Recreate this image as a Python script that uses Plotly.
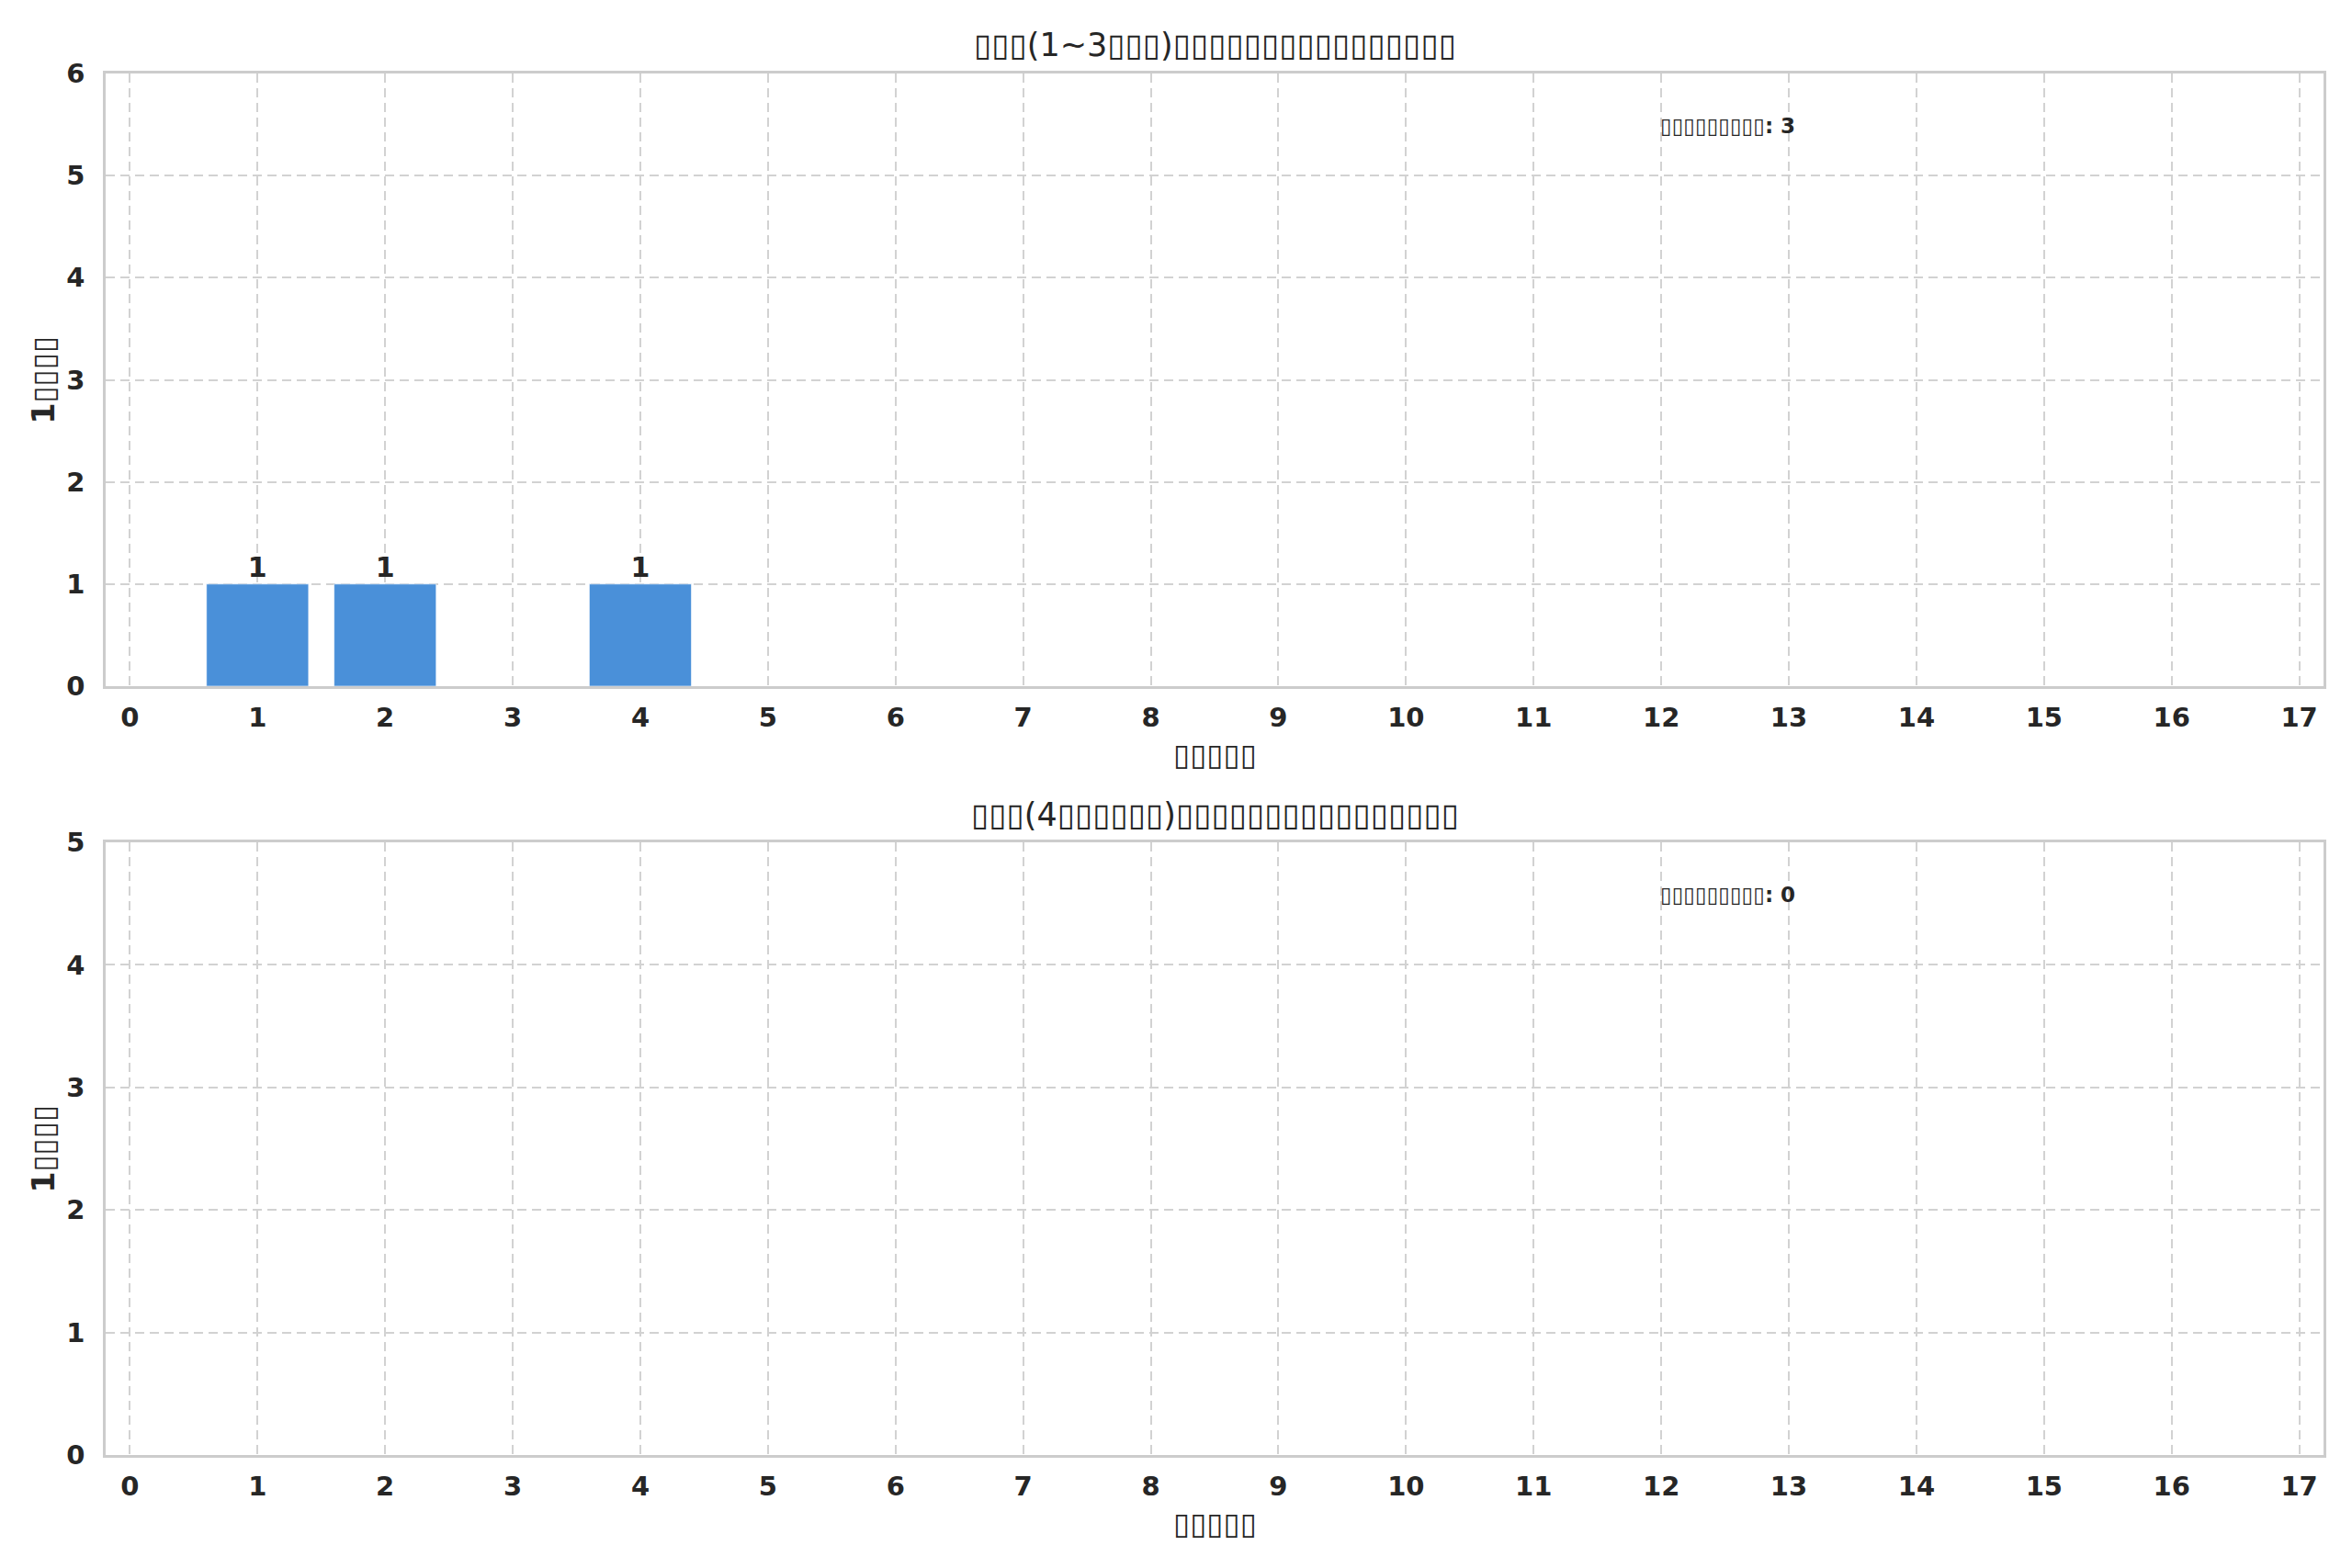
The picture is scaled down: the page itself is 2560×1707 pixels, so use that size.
import plotly.graph_objects as go
from plotly.subplots import make_subplots

# data (day index -> number of entries)
days = [0, 1, 2, 3, 4, 5, 6, 7, 8, 9, 10, 11, 12, 13, 14, 15, 16, 17]
counts_short = [0, 1, 1, 0, 1, 0, 0, 0, 0, 0, 0, 0, 0, 0, 0, 0, 0, 0]
counts_long = [0, 0, 0, 0, 0, 0, 0, 0, 0, 0, 0, 0, 0, 0, 0, 0, 0, 0]

# text as it shows in the picture (glyphs were missing -> boxes)
title_short = "▯▯▯(1~3▯▯▯)▯▯▯▯▯▯▯▯▯▯▯▯▯▯▯▯"
title_long = "▯▯▯(4▯▯▯▯▯▯)▯▯▯▯▯▯▯▯▯▯▯▯▯▯▯▯"
x_label = "▯▯▯▯▯"
y_label = "1▯▯▯▯"
total_label = "▯▯▯▯▯▯▯▯▯"

FONT = "DejaVu Sans"
DARK = "#262626"
BAR = "#4a90d9"
GRID = "#d2d2d2"
SPINE = "#cccccc"

W, H = 2560, 1707
OFF = 8  # page body margin, the figure is drawn 8px in from the corner


def px_x(p):
    return (p - OFF) / W


def px_y(p):
    return 1 - (p - OFF) / H


x_dom = [px_x(115), px_x(2529)]
y_doms = [[px_y(747), px_y(80)], [px_y(1584), px_y(917)]]
title_y = [px_y(49), px_y(887)]

fig = make_subplots(rows=2, cols=1)

panels = [
    (counts_short, title_short, 6),
    (counts_long, title_long, 5),
]

for i, (vals, title, ymax) in enumerate(panels):
    row = i + 1
    fig.add_trace(go.Bar(
        x=days, y=vals, width=0.8,
        marker=dict(color=BAR, line=dict(color="rgba(255,255,255,0.6)", width=1)),
        showlegend=False, hoverinfo="x+y",
    ), row=row, col=1)
    # count labels sitting on top of the bars
    fig.add_trace(go.Scatter(
        x=days, y=vals, mode="text",
        text=[str(v) if v > 0 else "" for v in vals],
        textposition="top center", cliponaxis=False,
        textfont=dict(family=FONT, size=30, color=DARK, weight="bold"),
        showlegend=False, hoverinfo="skip",
    ), row=row, col=1)

    fig.update_xaxes(
        domain=x_dom, range=[-0.19, 17.19], tickmode="array", tickvals=days,
        showgrid=True, gridcolor=GRID, gridwidth=2, griddash="10px,6px",
        showline=True, mirror=True, linecolor=SPINE, linewidth=2.5,
        zeroline=False, ticks="", ticklabelstandoff=6, automargin=False,
        tickfont=dict(family=FONT, size=29, color=DARK, weight="bold"),
        row=row, col=1)
    fig.update_yaxes(
        domain=y_doms[i], range=[0, ymax], dtick=1,
        showgrid=True, gridcolor=GRID, gridwidth=2, griddash="10px,6px",
        showline=True, mirror=True, linecolor=SPINE, linewidth=2.5,
        zeroline=False, ticks="", ticklabelstandoff=14, automargin=False,
        tickfont=dict(family=FONT, size=29, color=DARK, weight="bold"),
        row=row, col=1)

    y0, y1 = y_doms[i]
    # panel title
    fig.add_annotation(x=sum(x_dom) / 2, y=title_y[i], xref="paper", yref="paper",
                       text=title, showarrow=False,
                       xanchor="center", yanchor="middle",
                       font=dict(family=FONT, size=35, color=DARK))
    # axis labels
    fig.add_annotation(x=sum(x_dom) / 2, y=y0 - 74 / H, xref="paper", yref="paper",
                       text=x_label, showarrow=False,
                       xanchor="center", yanchor="middle",
                       font=dict(family=FONT, size=33, color=DARK, weight="bold"))
    fig.add_annotation(x=px_x(47), y=(y0 + y1) / 2, xref="paper", yref="paper",
                       text=y_label, showarrow=False, textangle=-90,
                       xanchor="center", yanchor="middle",
                       font=dict(family=FONT, size=33, color=DARK, weight="bold"))
    # total count box
    fig.add_annotation(x=x_dom[0] + 0.7 * (x_dom[1] - x_dom[0]),
                       y=y0 + 0.9145 * (y1 - y0), xref="paper", yref="paper",
                       text=f"{total_label}: {sum(vals)}", showarrow=False,
                       xanchor="left", yanchor="middle",
                       font=dict(family=FONT, size=23, color=DARK, weight="bold"))

fig.update_layout(
    width=W, height=H,
    margin=dict(l=0, r=0, t=0, b=0),
    paper_bgcolor="white", plot_bgcolor="white",
    bargap=0.2,
)

fig.write_html("out.html")
